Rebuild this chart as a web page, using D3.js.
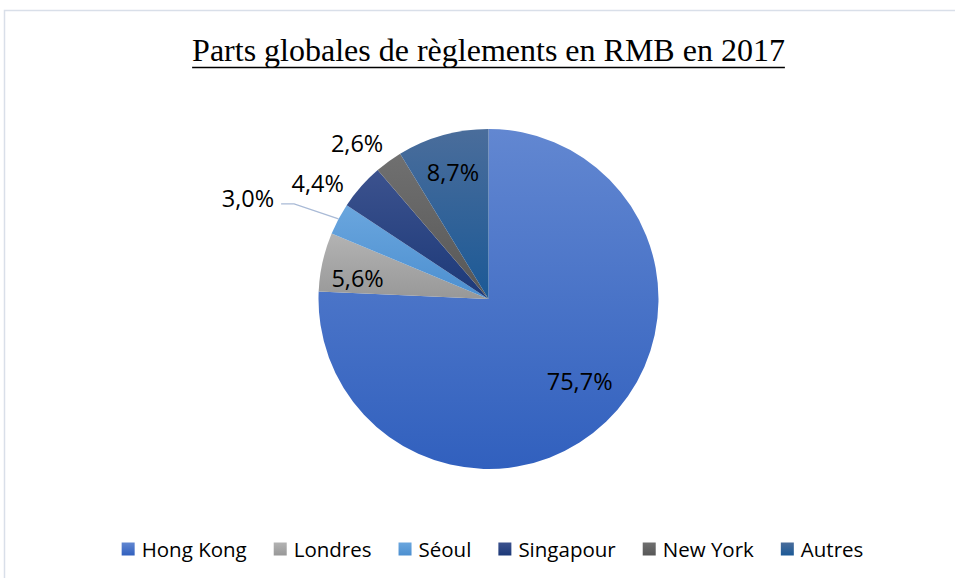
<!DOCTYPE html>
<html>
<head>
<meta charset="utf-8">
<script src="https://cdn.jsdelivr.net/npm/d3@7"></script>
<style>
  body { margin: 0; background: #fff; }
  svg { display: block; }
</style>
</head>
<body>
<div id="chart"></div>
<script>
// Data
const titleText = "Parts globales de règlements en RMB en 2017";
const categories = ["Hong Kong", "Londres", "Séoul", "Singapour", "New York", "Autres"];
const shares = [75.7, 5.6, 3.0, 4.4, 2.6, 8.7];
const labels = ["75,7%", "5,6%", "3,0%", "4,4%", "2,6%", "8,7%"];

// Colours (top / bottom of each slice gradient)
const topColors = ["#6287D1", "#B3B3B3", "#6AA6DE", "#3C528E", "#707070", "#4A6D9B"];
const bottomColors = ["#3160BE", "#989898", "#4C8FD0", "#1C3978", "#575757", "#1B5996"];

// Label placement: radius factor and angle nudge (degrees) from slice mid-angle
const labelPlace = [
  { r: 0.72, da: -4.4 },
  { r: 0.78, da: -3.5 },
  { r: 1.535, da: -5.3, leader: true },
  { r: 1.215, da: -7.2 },
  { r: 1.2, da: -4.1 },
  { r: 0.776, da: 0 }
];

const width = 955, height = 578;
const cx = 488.5, cy = 299, radius = 170;

const svg = d3.select("#chart").append("svg")
  .attr("width", width)
  .attr("height", height);

// chart frame
svg.append("rect")
  .attr("x", 4.5).attr("y", 10.5)
  .attr("width", 1000).attr("height", 700)
  .attr("fill", "none")
  .attr("stroke", "#D9DFE9")
  .attr("stroke-width", 1.5);

// title
const title = svg.append("text")
  .attr("x", cx)
  .attr("y", 61)
  .attr("text-anchor", "middle")
  .attr("font-family", "'Liberation Serif', 'Times New Roman', serif")
  .attr("font-size", 32)
  .attr("fill", "#000")
  .text(titleText);

const tw = title.node().getComputedTextLength();
svg.append("line")
  .attr("x1", cx - tw / 2).attr("x2", cx + tw / 2)
  .attr("y1", 67.5).attr("y2", 67.5)
  .attr("stroke", "#000")
  .attr("stroke-width", 1.5);

// gradients
const defs = svg.append("defs");
categories.forEach((c, i) => {
  const g = defs.append("linearGradient")
    .attr("id", "grad" + i)
    .attr("x1", 0).attr("y1", 0).attr("x2", 0).attr("y2", 1);
  g.append("stop").attr("offset", "0%").attr("stop-color", topColors[i]);
  g.append("stop").attr("offset", "100%").attr("stop-color", bottomColors[i]);
});

const pieData = categories.map((c, i) => ({ name: c, value: shares[i], label: labels[i], i }));

const pie = d3.pie()
  .value(d => d.value)
  .sort(null);

const arcs = pie(pieData);
const arc = d3.arc().innerRadius(0).outerRadius(radius);

const g = svg.append("g").attr("transform", `translate(${cx},${cy})`);

g.selectAll("path.slice")
  .data(arcs)
  .join("path")
  .attr("class", "slice")
  .attr("d", arc)
  .attr("fill", d => `url(#grad${d.data.i})`);

// polar helper (angle from 12 o'clock, clockwise)
function polar(a, r) {
  return [r * Math.sin(a), -r * Math.cos(a)];
}

// data labels
arcs.forEach(d => {
  const p = labelPlace[d.data.i];
  const mid = (d.startAngle + d.endAngle) / 2;
  const a = mid + p.da * Math.PI / 180;
  const [x, y] = polar(a, p.r * radius);
  const t = g.append("text")
    .attr("x", x)
    .attr("y", y)
    .attr("text-anchor", "middle")
    .attr("dominant-baseline", "central")
    .attr("font-family", "'Open Sans', sans-serif")
    .attr("font-size", 23.5)
    .attr("fill", "#000")
    .text(d.data.label);

  if (p.leader) {
    const w = t.node().getComputedTextLength();
    const [ex, ey] = polar(mid, radius);
    const sx = x + w / 2 + 7, sy = y + 6;
    g.append("polyline")
      .attr("points", `${sx},${sy} ${sx + 13},${sy} ${ex},${ey}`)
      .attr("fill", "none")
      .attr("stroke", "#A9BAD6")
      .attr("stroke-width", 1.3);
  }
});

// legend
const legend = svg.append("g");
const legendY = 549;
const box = 13, boxGap = 7, itemGap = 27;
let lx = 0;
categories.forEach((c, i) => {
  const item = legend.append("g").attr("transform", `translate(${lx},0)`);
  item.append("rect")
    .attr("x", 0).attr("y", legendY - box / 2)
    .attr("width", box).attr("height", box)
    .attr("fill", `url(#grad${i})`);
  const t = item.append("text")
    .attr("x", box + boxGap)
    .attr("y", legendY)
    .attr("dominant-baseline", "central")
    .attr("font-family", "'Open Sans', sans-serif")
    .attr("font-size", 20.5)
    .attr("fill", "#000")
    .text(c);
  lx += box + boxGap + t.node().getComputedTextLength() + itemGap;
});
const legendW = lx - itemGap;
legend.attr("transform", `translate(${492.5 - legendW / 2},0)`);
</script>
</body>
</html>
